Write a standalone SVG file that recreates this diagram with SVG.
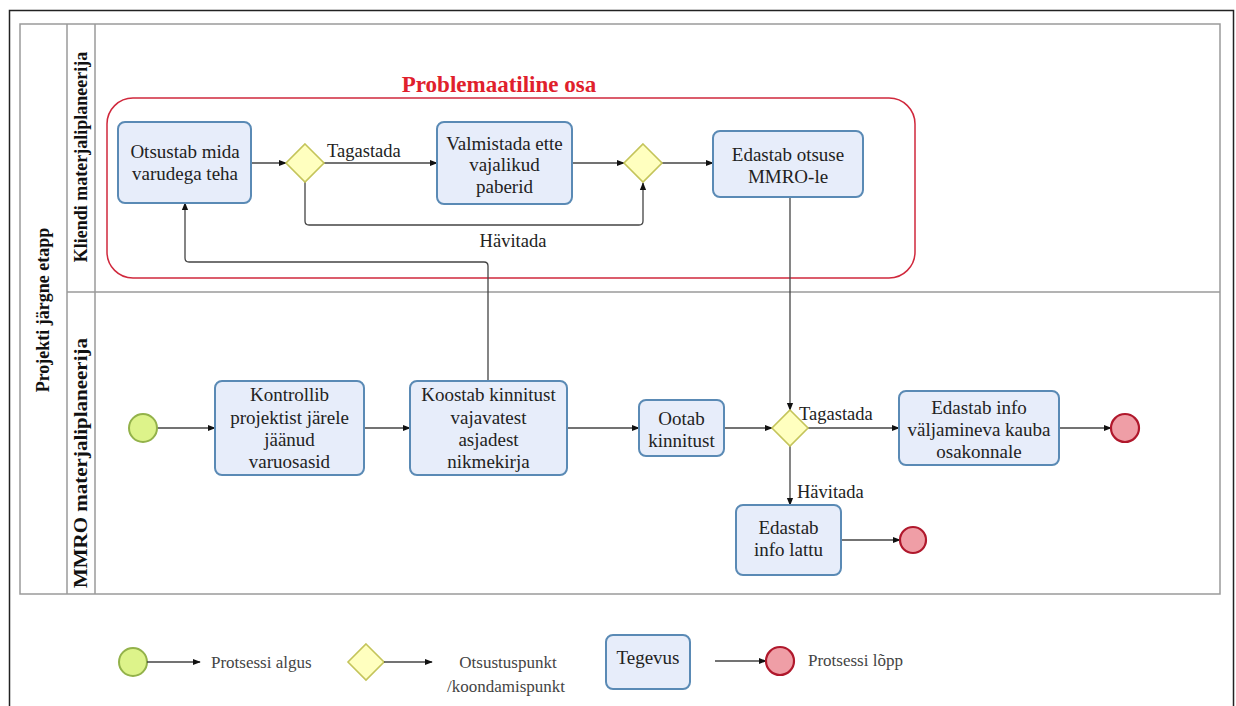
<svg xmlns="http://www.w3.org/2000/svg" width="1236" height="706" viewBox="0 0 1236 706">
  <defs>
    <marker id="arrow" viewBox="0 0 10 10" refX="9" refY="5" markerWidth="8" markerHeight="8" orient="auto" markerUnits="userSpaceOnUse">
      <path d="M0,1 L10,5 L0,9 Z" fill="#111"/>
    </marker>
    <style>
      .task { fill: #e7edfa; stroke: #5a8ab5; stroke-width: 2; }
      .gate { fill: #ffffbf; stroke: #c4c45a; stroke-width: 1.6; }
      .start { fill: #ddf38a; stroke: #93b24a; stroke-width: 2; }
      .end { fill: #ef9ea6; stroke: #b0182c; stroke-width: 2.2; }
      .lbl { font-family: "Liberation Serif", "Times New Roman", serif; font-size: 19px; fill: #222; text-anchor: middle; }
      .edge { font-family: "Liberation Serif", "Times New Roman", serif; font-size: 18.5px; fill: #222; }
      .lane { font-family: "Liberation Serif", "Times New Roman", serif; font-size: 18px; font-weight: bold; fill: #111; text-anchor: middle; }
      .legend { font-family: "Liberation Serif", "Times New Roman", serif; font-size: 17px; fill: #444; }
      .conn { fill: none; stroke: #444; stroke-width: 1.3; }
      .arr { marker-end: url(#arrow); }
      .pool { fill: none; stroke: #9a9a9a; stroke-width: 1.5; }
    </style>
  </defs>

  <rect width="1236" height="706" fill="#ffffff"/>

  <!-- outer frame -->
  <rect x="9.5" y="10.5" width="1224" height="710" fill="none" stroke="#222" stroke-width="1.5"/>

  <!-- pool and lanes -->
  <g id="pool">
    <rect class="pool" x="20" y="24" width="1200" height="570"/>
    <line class="pool" x1="67" y1="24" x2="67" y2="594"/>
    <line class="pool" x1="95" y1="24" x2="95" y2="594"/>
    <line class="pool" x1="67" y1="292" x2="1220" y2="292"/>
    <text class="lane" transform="translate(49,310) rotate(-90)">Projekti järgne etapp</text>
    <text class="lane" transform="translate(87,157) rotate(-90)">Kliendi materjaliplaneerija</text>
    <text class="lane" transform="translate(87,463) rotate(-90)" textLength="250" lengthAdjust="spacingAndGlyphs">MMRO materjaliplaneerija</text>
  </g>

  <!-- highlighted group -->
  <g id="problem-area">
    <rect x="107" y="98" width="808" height="180" rx="26" ry="26" fill="none" stroke="#d0283c" stroke-width="1.5"/>
    <text x="499" y="92" font-family="Liberation Serif, Times New Roman, serif" font-size="23" font-weight="bold" fill="#e0202c" text-anchor="middle">Problemaatiline osa</text>
  </g>

  <!-- connectors -->
  <g id="connectors">
    <line class="conn arr" x1="251" y1="163" x2="286" y2="163"/>
    <line class="conn arr" x1="324" y1="163" x2="437" y2="163"/>
    <path class="conn arr" d="M305,182 V221 Q305,225 309,225 H639 Q643,225 643,221 V183"/>
    <line class="conn arr" x1="572" y1="163" x2="624" y2="163"/>
    <line class="conn arr" x1="662" y1="163" x2="713" y2="163"/>
    <path class="conn arr" d="M488,381 V266 Q488,262 484,262 H189 Q185,262 185,258 V203"/>
    <line class="conn arr" x1="790" y1="197" x2="790" y2="410"/>
    <line class="conn arr" x1="157" y1="428" x2="215" y2="428"/>
    <line class="conn arr" x1="364" y1="428" x2="410" y2="428"/>
    <line class="conn arr" x1="567" y1="428" x2="639" y2="428"/>
    <line class="conn arr" x1="724" y1="428" x2="772" y2="428"/>
    <line class="conn arr" x1="808" y1="428" x2="899" y2="428"/>
    <line class="conn arr" x1="1059" y1="428" x2="1111" y2="428"/>
    <line class="conn arr" x1="790" y1="446" x2="790" y2="505"/>
    <line class="conn arr" x1="841" y1="540" x2="900" y2="540"/>
    <text class="edge" x="327" y="157">Tagastada</text>
    <text class="edge" x="513" y="247" text-anchor="middle">Hävitada</text>
    <text class="edge" x="799" y="420">Tagastada</text>
    <text class="edge" x="797" y="498">Hävitada</text>
  </g>

  <!-- client lane -->
  <g id="otsustab">
    <rect class="task" x="118" y="122" width="133" height="81" rx="7"/>
    <text class="lbl" x="185" y="158">Otsustab mida</text>
    <text class="lbl" x="185" y="180">varudega teha</text>
  </g>
  <g id="gateway-1">
    <polygon class="gate" points="305,144 324,163 305,182 286,163"/>
  </g>
  <g id="valmistada">
    <rect class="task" x="437" y="122" width="135" height="82" rx="7"/>
    <text class="lbl" x="504.5" y="150">Valmistada ette</text>
    <text class="lbl" x="504.5" y="171">vajalikud</text>
    <text class="lbl" x="504.5" y="193">paberid</text>
  </g>
  <g id="gateway-2">
    <polygon class="gate" points="643,144 662,163 643,182 624,163"/>
  </g>
  <g id="edastab-otsuse">
    <rect class="task" x="713" y="131" width="150" height="66" rx="7"/>
    <text class="lbl" x="788" y="161">Edastab otsuse</text>
    <text class="lbl" x="788" y="183">MMRO-le</text>
  </g>

  <!-- MMRO lane -->
  <g id="start">
    <circle class="start" cx="143" cy="428" r="14"/>
  </g>
  <g id="kontrollib">
    <rect class="task" x="215" y="381" width="149" height="94" rx="7"/>
    <text class="lbl" x="289.5" y="401">Kontrollib</text>
    <text class="lbl" x="289.5" y="424">projektist järele</text>
    <text class="lbl" x="289.5" y="446">jäänud</text>
    <text class="lbl" x="289.5" y="468">varuosasid</text>
  </g>
  <g id="koostab">
    <rect class="task" x="410" y="381" width="157" height="94" rx="7"/>
    <text class="lbl" x="488.5" y="401">Koostab kinnitust</text>
    <text class="lbl" x="488.5" y="424">vajavatest</text>
    <text class="lbl" x="488.5" y="446">asjadest</text>
    <text class="lbl" x="488.5" y="468">nikmekirja</text>
  </g>
  <g id="ootab">
    <rect class="task" x="639" y="400" width="85" height="56" rx="7"/>
    <text class="lbl" x="681.5" y="425">Ootab</text>
    <text class="lbl" x="681.5" y="447">kinnitust</text>
  </g>
  <g id="gateway-3">
    <polygon class="gate" points="790,410 808,428 790,446 772,428"/>
  </g>
  <g id="edastab-info">
    <rect class="task" x="899" y="391" width="160" height="74" rx="7"/>
    <text class="lbl" x="979" y="414">Edastab info</text>
    <text class="lbl" x="979" y="436">väljamineva kauba</text>
    <text class="lbl" x="979" y="458">osakonnale</text>
  </g>
  <g id="end-1">
    <circle class="end" cx="1125" cy="428" r="14"/>
  </g>
  <g id="edastab-lattu">
    <rect class="task" x="736" y="505" width="105" height="70" rx="7"/>
    <text class="lbl" x="788.5" y="534">Edastab</text>
    <text class="lbl" x="788.5" y="556">info lattu</text>
  </g>
  <g id="end-2">
    <circle class="end" cx="913" cy="540" r="13"/>
  </g>

  <!-- legend -->
  <g id="legend">
    <circle class="start" cx="133" cy="662" r="14"/>
    <line class="conn arr" x1="147" y1="662" x2="200" y2="662"/>
    <text class="legend" x="211" y="668">Protsessi algus</text>
    <polygon class="gate" points="366,644 384,662 366,680 348,662"/>
    <line class="conn arr" x1="384" y1="662" x2="432" y2="662"/>
    <text class="legend" x="508" y="668" text-anchor="middle">Otsustuspunkt</text>
    <text class="legend" x="506" y="692" text-anchor="middle">/koondamispunkt</text>
    <rect class="task" x="606" y="635" width="84" height="54" rx="7"/>
    <text class="lbl" x="648" y="664" font-size="17">Tegevus</text>
    <line class="conn arr" x1="715" y1="661" x2="766" y2="661"/>
    <circle class="end" cx="780" cy="661" r="14"/>
    <text class="legend" x="808" y="666">Protsessi lõpp</text>
  </g>
</svg>
